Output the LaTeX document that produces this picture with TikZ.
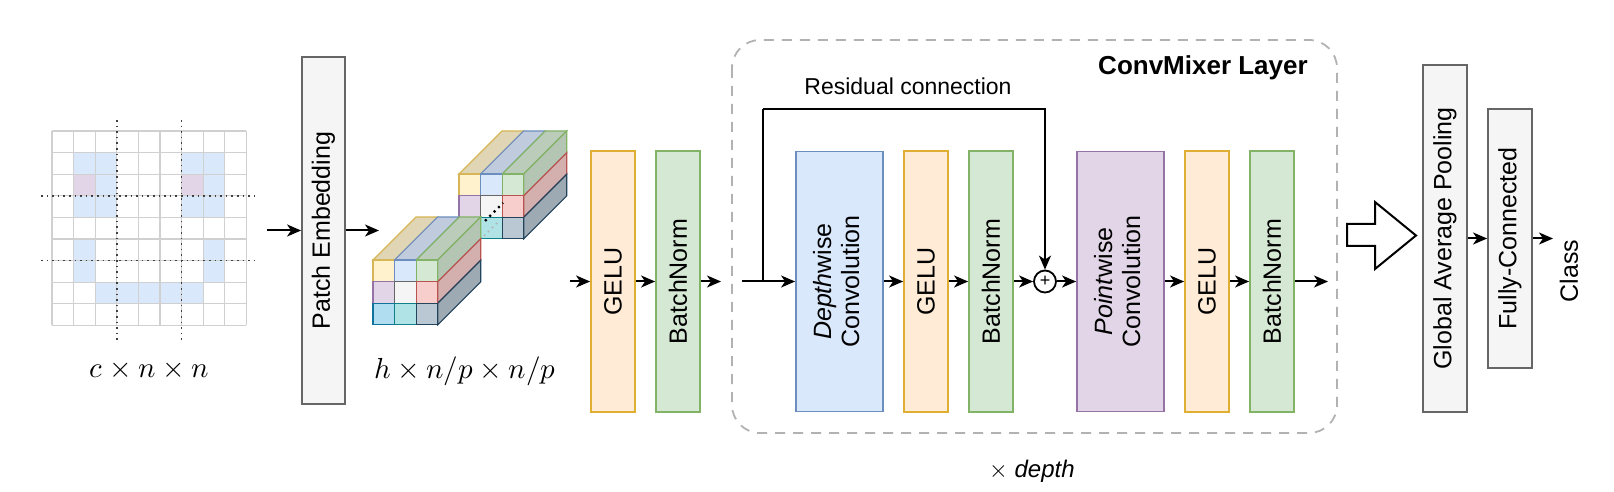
\documentclass[tikz,border=0pt]{standalone}
\usepackage{amsmath}
\usepackage{fontspec}
\setmainfont{Liberation Sans}
\usepackage{unicode-math}
\setmathfont{Latin Modern Math}
\usetikzlibrary{arrows.meta,positioning}

\definecolor{fyel}{HTML}{FFF2CC}\definecolor{syel}{HTML}{D6B656}
\definecolor{fblu}{HTML}{DAE8FC}\definecolor{sblu}{HTML}{6C8EBF}
\definecolor{fgrn}{HTML}{D5E8D4}\definecolor{sgrn}{HTML}{82B366}
\definecolor{fpur}{HTML}{E1D5E7}\definecolor{spur}{HTML}{9673A6}
\definecolor{fred}{HTML}{F8CECC}\definecolor{sred}{HTML}{B85450}
\definecolor{fgry}{HTML}{F5F5F5}\definecolor{sgry}{HTML}{666666}
\definecolor{fsky}{HTML}{B1DDF0}\definecolor{ssky}{HTML}{10739E}
\definecolor{ftea}{HTML}{B0E3E6}\definecolor{stea}{HTML}{0E8088}
\definecolor{fslt}{HTML}{BAC8D3}\definecolor{sslt}{HTML}{23445D}
\definecolor{forg}{HTML}{FFE6CC}\definecolor{sorg}{HTML}{D79B00}
\definecolor{gridc}{HTML}{D0D0D0}

\tikzset{
  arr/.style={line width=1pt,-{Stealth[length=7pt,width=6pt,inset=2pt]}},
  box/.style={draw, line width=0.9pt, inner sep=0pt, font=\fontsize{12.5}{14}\selectfont},
  gelu/.style={box, fill=forg!80!white, draw=sorg!80!white, minimum width=22pt, minimum height=130.5pt},
  bnorm/.style={box, fill=fgrn, draw=sgrn, minimum width=22pt, minimum height=130.5pt},
  conv/.style={box, minimum width=43.5pt, minimum height=130pt},
  grey/.style={box, fill=fgry, draw=sgry},
}

% one block of patches, front face top-left at (#1,#2)
\newcommand\patchblock[2]{%
  \foreach \f/\s [count=\j from 0] in {fyel/syel,fblu/sblu,fgrn/sgrn}
    \draw[fill=\f!88!black, draw=\s, line width=0.6pt]
      (#1+\j*21.6,#2) -- ++(21.6,0) -- ++(43,-43) -- ++(-21.6,0) -- cycle;
  \foreach \f/\s [count=\i from 0] in {fgrn/sgrn,fred/sred,fslt/sslt}
    \draw[fill=\f!85!black, draw=\s, line width=0.6pt]
      (#1+64.8,#2+\i*21.6) -- ++(0,21.6) -- ++(43,-43) -- ++(0,-21.6) -- cycle;
  \foreach \row [count=\i from 0] in {{fyel/syel,fblu/sblu,fgrn/sgrn},{fpur/spur,fgry/sgry,fred/sred},{fsky/ssky,ftea/stea,fslt/sslt}}
    \foreach \f/\s [count=\j from 0] in \row
      \draw[fill=\f, draw=\s, line width=0.6pt] (#1+\j*21.6,#2+\i*21.6) rectangle ++(21.6,21.6);
}

\begin{document}
\begin{tikzpicture}[x=0.5pt,y=-0.5pt]
\useasboundingbox (0,0) rectangle (1614,492);
%input image
\foreach \i/\j in {1/1,1/2,1/6,1/7,2/2,2/7,3/1,3/2,3/6,3/7,5/1,6/1,5/7,6/7,7/2,7/3,7/4,7/5,7/6}
  \fill[fblu] (52+\j*21.6,131+\i*21.6) rectangle ++(21.6,21.6);
\foreach \j in {1,6}
  \fill[fpur] (52+\j*21.6,131+2*21.6) rectangle ++(21.6,21.6);
\foreach \k in {0,...,9} {
  \draw[gridc, line width=0.6pt] (52+\k*21.6,131) -- (52+\k*21.6,325.4);
  \draw[gridc, line width=0.6pt] (52,131+\k*21.6) -- (246.4,131+\k*21.6);
}
\foreach \x in {116.8,181.6}
  \draw[line width=0.8pt, dotted, black!75] (\x,120) -- (\x,340);
\foreach \y in {195.8,260.6}
  \draw[line width=0.8pt, dotted, black!75] (41,\y) -- (257,\y);
\node[font=\fontsize{14.5}{16}\selectfont] (inlbl) at (149,371) {$c\times n\times n$};
\coordinate (inr) at (267,230.5);
%patch embedding
\node[grey, minimum width=21.5pt, minimum height=173.5pt] (pe) at (323.5,230.5) {\rotatebox{90}{Patch Embedding}};
\coordinate (cubel) at (379,230.5);
\draw[arr] (inr) -- (pe.west);
\draw[arr] (pe.east) -- (cubel);
%patches
\patchblock{459}{174}
\draw[line width=1.1pt, dotted] (485,221) -- (503,203);
\draw[line width=0.8pt, dotted, black!30] (484,236) -- (498,222);
\patchblock{373}{260}
\node[font=\fontsize{14.5}{16}\selectfont] (plbl) at (465,371) {$h\times n/p\times n/p$};
%first block
\coordinate (cuber) at (570,281.5);
\node[gelu] (g1) at (613,281.5) {\rotatebox{90}{GELU}};
\node[bnorm] (b1) at (678,281.5) {\rotatebox{90}{BatchNorm}};
\coordinate (b1r) at (721,281.5);
\draw[arr] (cuber) -- (g1.west);
\draw[arr] (g1.east) -- (b1.west);
\draw[arr] (b1.east) -- (b1r);
%convmixer layer
\draw[dashed, gray!60, line width=0.9pt, dash pattern=on 5pt off 4pt, rounded corners=14pt] (732,40) rectangle (1337,433);
\node[font=\bfseries\fontsize{13}{15}\selectfont] (title) at (1203,68) {ConvMixer Layer};
\node[font=\fontsize{11.5}{13}\selectfont] (reslbl) at (908,86) {Residual connection};
\coordinate (inl) at (742,281.5);
\coordinate (rs) at (763,281.5);
\coordinate (rtop) at (763,109);
\node[conv, fill=fblu, draw=sblu] (dw) at (839.5,281.5) {\rotatebox{90}{\begin{tabular}{@{}c@{}}\textit{Depth}wise\\Convolution\end{tabular}}};
\node[gelu] (g2) at (926,281.5) {\rotatebox{90}{GELU}};
\node[bnorm] (b2) at (991,281.5) {\rotatebox{90}{BatchNorm}};
\node[draw, circle, line width=0.9pt, minimum size=11pt, inner sep=0pt, font=\fontsize{9}{9}\selectfont] (plus) at (1045,281.5) {+};
\node[conv, fill=fpur, draw=spur] (pw) at (1120.5,281.5) {\rotatebox{90}{\begin{tabular}{@{}c@{}}\textit{Point}wise\\Convolution\end{tabular}}};
\node[gelu] (g3) at (1207,281.5) {\rotatebox{90}{GELU}};
\node[bnorm] (b3) at (1272,281.5) {\rotatebox{90}{BatchNorm}};
\coordinate (outr) at (1328,281.5);
\draw[arr] (inl) -- (dw.west);
\draw[line width=1pt] (rs) -- (rtop);
\draw[arr] (rtop) -| (plus.north);
\draw[arr] (dw.east) -- (g2.west);
\draw[arr] (g2.east) -- (b2.west);
\draw[arr] (b2.east) -- (plus.west);
\draw[arr] (plus.east) -- (pw.west);
\draw[arr] (pw.east) -- (g3.west);
\draw[arr] (g3.east) -- (b3.west);
\draw[arr] (b3.east) -- (outr);
\node[font=\fontsize{12}{14}\selectfont] (depth) at (1032,471) {$\times$ \textit{depth}};
%head
\draw[line width=1pt, fill=white] (1347,224) -- (1375,224) -- (1375,202) -- (1416,235.5) -- (1375,269) -- (1375,246) -- (1347,246) -- cycle;
\node[grey, minimum width=22pt, minimum height=173.5pt] (gap) at (1445,238.5) {\rotatebox{90}{Global Average Pooling}};
\node[grey, minimum width=22pt, minimum height=129.5pt] (fc) at (1510,238.5) {\rotatebox{90}{Fully-Connected}};
\node[font=\fontsize{12.5}{14}\selectfont, rotate=90] (cls) at (1569,271) {Class};
\coordinate (fcr) at (1553,238.5);
\draw[arr] (gap.east) -- (fc.west);
\draw[arr] (fc.east) -- (fcr);
\end{tikzpicture}
\end{document}
